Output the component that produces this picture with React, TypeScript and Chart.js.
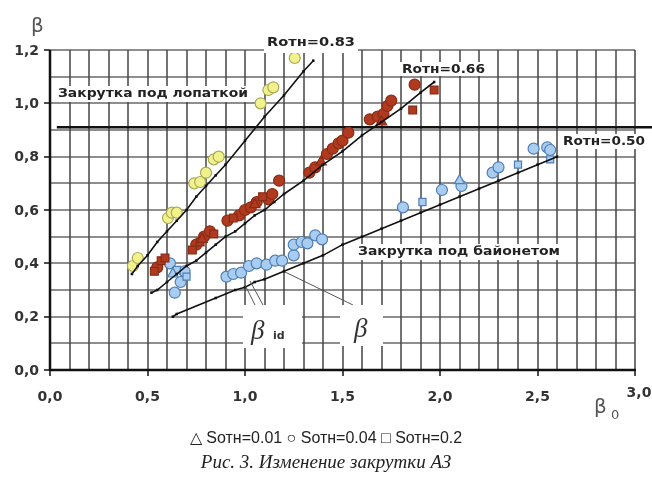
import React, { useEffect, useRef } from "react";
import { Chart, registerables } from "chart.js";
Chart.register(...registerables);

// ---- data ----
const refLineY = 0.91;

const line083X = [0.42, 0.45, 0.5, 0.55, 0.6, 0.65, 0.7, 0.75, 0.8, 0.85, 0.9, 1.0, 1.1, 1.2, 1.3, 1.35];
const line083Y = [0.36, 0.39, 0.43, 0.48, 0.52, 0.56, 0.6, 0.65, 0.69, 0.73, 0.77, 0.86, 0.95, 1.03, 1.12, 1.16];

const line066X = [0.52, 0.55, 0.6, 0.65, 0.7, 0.75, 0.8, 0.85, 0.9, 0.95, 1.0, 1.05, 1.1, 1.15, 1.2, 1.3, 1.4, 1.5, 1.6, 1.7, 1.8, 1.9, 1.97];
const line066Y = [0.29, 0.3, 0.33, 0.36, 0.39, 0.41, 0.44, 0.47, 0.5, 0.52, 0.55, 0.58, 0.6, 0.63, 0.66, 0.71, 0.77, 0.82, 0.88, 0.93, 0.98, 1.04, 1.08];

const line050X = [0.63, 0.65, 0.85, 0.95, 1.0, 1.05, 1.1, 1.2, 1.3, 1.4, 1.5, 1.6, 1.7, 1.8, 1.9, 2.0, 2.1, 2.2, 2.3, 2.4, 2.5, 2.6];
const line050Y = [0.2, 0.21, 0.27, 0.3, 0.31, 0.33, 0.34, 0.37, 0.4, 0.43, 0.47, 0.5, 0.53, 0.56, 0.59, 0.62, 0.65, 0.68, 0.71, 0.74, 0.77, 0.8];

const yellowX = [0.425, 0.45, 0.605, 0.625, 0.65, 0.74, 0.77, 0.8, 0.84, 0.865, 1.08, 1.12, 1.145, 1.255];
const yellowY = [0.39, 0.42, 0.57, 0.59, 0.59, 0.7, 0.705, 0.74, 0.79, 0.8, 1.0, 1.05, 1.06, 1.17];

const redCircX = [0.55, 0.75, 0.79, 0.82, 0.91, 0.97, 1.0, 1.03, 1.06, 1.12, 1.14, 1.175, 1.33, 1.36, 1.42, 1.45, 1.48, 1.5, 1.53, 1.64, 1.68, 1.71, 1.73, 1.75, 1.87];
const redCircY = [0.385, 0.47, 0.5, 0.52, 0.56, 0.58, 0.6, 0.61, 0.63, 0.64, 0.66, 0.71, 0.74, 0.76, 0.81, 0.83, 0.85, 0.86, 0.89, 0.94, 0.95, 0.96, 0.99, 1.01, 1.07];
const redSqX = [0.535, 0.57, 0.59, 0.73, 0.77, 0.84, 0.94, 1.09, 1.86, 1.97];
const redSqY = [0.37, 0.41, 0.42, 0.45, 0.48, 0.51, 0.57, 0.65, 0.975, 1.05];
const redTriX = [0.78, 1.05, 1.39, 1.7];
const redTriY = [0.49, 0.62, 0.78, 0.93];

const blueCircX = [0.615, 0.64, 0.67, 0.69, 0.905, 0.94, 0.98, 1.02, 1.06, 1.11, 1.155, 1.19, 1.25, 1.25, 1.29, 1.32, 1.36, 1.395, 1.81, 2.01, 2.11, 2.27, 2.3, 2.48, 2.55, 2.565];
const blueCircY = [0.4, 0.29, 0.33, 0.37, 0.35, 0.36, 0.365, 0.39, 0.4, 0.395, 0.41, 0.41, 0.43, 0.47, 0.48, 0.475, 0.505, 0.49, 0.61, 0.675, 0.69, 0.74, 0.76, 0.83, 0.835, 0.825];
const blueSqX = [0.65, 0.7, 1.91, 2.4, 2.565];
const blueSqY = [0.375, 0.35, 0.63, 0.77, 0.79];
const blueTriX = [0.63, 2.1];
const blueTriY = [0.36, 0.71];

const lineLabels = ["Rотн=0.83", "Rотн=0.66", "Rотн=0.50"];
const zoneLabels = ["Закрутка под лопаткой", "Закрутка под байонетом"];
const legendText = "△ Sотн=0.01 ○ Sотн=0.04 □ Sотн=0.2";
const captionText = "Рис. 3. Изменение закрутки АЗ";

const pts = (xs: number[], ys: number[]) => xs.map((x, i) => ({ x, y: ys[i] }));
const fmt = (v: number) => v.toFixed(1).replace(".", ",");
const tenth = (v: number) => Math.round(v * 10);

function fitText(ctx: CanvasRenderingContext2D, text: string, x: number, yMid: number, w: number, font: string, color: string) {
  ctx.save();
  ctx.font = font;
  ctx.textBaseline = "middle";
  ctx.textAlign = "left";
  const m = ctx.measureText(text).width;
  ctx.translate(x, yMid);
  ctx.scale(w / m, 1);
  ctx.fillStyle = color;
  ctx.fillText(text, 0, 0);
  ctx.restore();
}

function whiteBox(ctx: CanvasRenderingContext2D, x0: number, y0: number, x1: number, y1: number) {
  ctx.save();
  ctx.fillStyle = "#ffffff";
  ctx.fillRect(x0, y0, x1 - x0, y1 - y0);
  ctx.restore();
}

function seg(ctx: CanvasRenderingContext2D, x0: number, y0: number, x1: number, y1: number) {
  ctx.beginPath();
  ctx.moveTo(x0, y0);
  ctx.lineTo(x1, y1);
  ctx.stroke();
}

// grid, axes and tick marks painted on a canvas that sits under the chart canvas,
// positioned with the chart's own scales
function drawGrid(g: CanvasRenderingContext2D, chart: any) {
  const xs = chart.scales.x, ys = chart.scales.y;
  const L = xs.getPixelForValue(0);
  const R = xs.getPixelForValue(3);
  const T = ys.getPixelForValue(1.2);
  const B = ys.getPixelForValue(0);
  g.clearRect(0, 0, g.canvas.width, g.canvas.height);
  g.save();
  g.strokeStyle = "#8e8e8e";
  g.lineWidth = 2;
  ys.ticks.forEach((t: any) => {
    const p = Math.round(ys.getPixelForValue(t.value));
    seg(g, L, p, R, p);
  });
  g.strokeStyle = "#444";
  g.lineWidth = 1.5;
  xs.ticks.forEach((t: any) => {
    const p = Math.round(xs.getPixelForValue(t.value));
    seg(g, p, T, p, B);
  });
  g.strokeStyle = "#111";
  g.lineWidth = 1.5;
  ys.ticks.forEach((t: any) => {
    if (tenth(t.value) % 2 !== 0) return;
    const p = Math.round(ys.getPixelForValue(t.value));
    seg(g, L - 6, p, L, p);
  });
  xs.ticks.forEach((t: any) => {
    if (tenth(t.value) % 5 !== 0) return;
    const p = Math.round(xs.getPixelForValue(t.value));
    seg(g, p, B, p, B + 6);
  });
  g.lineWidth = 2.5;
  seg(g, L, T, L, B + 1);
  seg(g, L - 1, B, R + 1, B);
  g.restore();
}

const annotPlugin = {
  id: "annot",
  beforeDatasetsDraw(chart: any) {
    const ctx = chart.ctx;
    const xs = chart.scales.x, ys = chart.scales.y;
    const yy = ys.getPixelForValue(refLineY);
    ctx.save();
    ctx.strokeStyle = "#111";
    ctx.lineWidth = 2.5;
    seg(ctx, xs.getPixelForValue(0.035), yy, chart.width, yy);
    ctx.restore();
  },
  afterDatasetsDraw(chart: any) {
    const ctx = chart.ctx;
    const xs = chart.scales.x, ys = chart.scales.y;
    const axL = xs.getPixelForValue(0);
    const axB = ys.getPixelForValue(0);
    const bold = "bold 13px 'DejaVu Sans', sans-serif";

    // tick labels
    ctx.save();
    ctx.fillStyle = "#333";
    ctx.font = "bold 14px 'DejaVu Sans', sans-serif";
    ctx.textBaseline = "middle";
    ctx.textAlign = "right";
    ys.ticks.forEach((t: any) => {
      if (tenth(t.value) % 2 !== 0) return;
      ctx.fillText(fmt(t.value), axL - 11, ys.getPixelForValue(t.value) + 1);
    });
    ctx.textAlign = "center";
    xs.ticks.forEach((t: any) => {
      const k = tenth(t.value);
      if (k % 5 !== 0) return;
      const last = k === 30;
      ctx.fillText(fmt(t.value), xs.getPixelForValue(t.value) + (last ? 4 : 0), axB + (last ? 23 : 27));
    });
    ctx.restore();

    // line labels
    whiteBox(ctx, 264, 34, 358, 53);
    fitText(ctx, lineLabels[0], 267, 43, 88, bold, "#222");
    whiteBox(ctx, 399, 62, 488, 76);
    fitText(ctx, lineLabels[1], 402, 70, 83, bold, "#222");
    whiteBox(ctx, 560, 134, 648, 149);
    fitText(ctx, lineLabels[2], 563, 142, 82, bold, "#222");
    // zone labels
    whiteBox(ctx, 55, 86, 252, 102);
    fitText(ctx, zoneLabels[0], 58, 94, 190, bold, "#222");
    whiteBox(ctx, 354, 244, 565, 260);
    fitText(ctx, zoneLabels[1], 358, 252, 202, bold, "#222");

    // leader lines
    ctx.save();
    ctx.strokeStyle = "#555";
    ctx.lineWidth = 1;
    seg(ctx, 245, 285, 255, 305);
    seg(ctx, 250, 281, 263, 305);
    seg(ctx, 285, 272, 353, 305);
    ctx.restore();

    // beta labels
    whiteBox(ctx, 243, 305, 302, 348);
    whiteBox(ctx, 340, 305, 383, 346);
    ctx.save();
    ctx.fillStyle = "#333";
    ctx.textBaseline = "alphabetic";
    ctx.textAlign = "left";
    ctx.font = "italic 27px 'Liberation Serif', serif";
    ctx.fillText("β", 251, 339);
    ctx.fillText("β", 354, 337);
    ctx.font = "bold 11px 'DejaVu Sans', sans-serif";
    ctx.fillText("id", 273, 339);

    // axis titles
    ctx.fillStyle = "#555";
    ctx.font = "20px 'DejaVu Sans', sans-serif";
    ctx.fillText("β", 31, 32);
    ctx.fillText("β", 594, 413);
    ctx.font = "13px 'DejaVu Sans', sans-serif";
    ctx.fillText("0", 611, 419);
    ctx.restore();
  },
};

export default function App() {
  const ref = useRef<HTMLCanvasElement | null>(null);
  const bgRef = useRef<HTMLCanvasElement | null>(null);
  useEffect(() => {
    if (!ref.current) return;
    const lineDs = (xs: number[], ys: number[]) => ({
      data: pts(xs, ys),
      showLine: true,
      fill: false,
      borderColor: "#111",
      borderWidth: 1.6,
      backgroundColor: "#111",
      pointStyle: "rect",
      pointRadius: 1.8,
      pointBorderWidth: 0,
    });
    const scatterDs = (xs: number[], ys: number[], style: string, fill: string, edge: string, r: number) => ({
      data: pts(xs, ys),
      showLine: false,
      pointStyle: style,
      pointRadius: r,
      backgroundColor: fill,
      borderColor: edge,
      pointBorderWidth: 1.2,
    });
    const chart = new Chart(ref.current, {
      type: "scatter",
      data: {
        datasets: [
          lineDs(line083X, line083Y),
          lineDs(line066X, line066Y),
          lineDs(line050X, line050Y),
          scatterDs(yellowX, yellowY, "circle", "#f2f28c", "#a9a95a", 5.5),
          scatterDs(redTriX, redTriY, "triangle", "#b03a1f", "#8a2b15", 6),
          scatterDs(redSqX, redSqY, "rect", "#b03a1f", "#8a2b15", 5.5),
          scatterDs(redCircX, redCircY, "circle", "#b03a1f", "#8a2b15", 5.5),
          scatterDs(blueTriX, blueTriY, "triangle", "#a9cdf0", "#4f7fb5", 6),
          scatterDs(blueSqX, blueSqY, "rect", "#a9cdf0", "#4f7fb5", 5),
          scatterDs(blueCircX, blueCircY, "circle", "#a9cdf0", "#4f7fb5", 5.5),
        ] as any,
      },
      options: {
        animation: false,
        responsive: false,
        devicePixelRatio: 1,
        layout: { padding: { left: 0, top: 50, right: 17, bottom: 0 } },
        plugins: { legend: { display: false }, tooltip: { enabled: false } },
        scales: {
          x: {
            type: "linear",
            min: 0,
            max: 3,
            afterFit: (s: any) => { s.height = 50; },
            ticks: { stepSize: 0.1, autoSkip: false, display: false },
            grid: { display: false },
            border: { display: false },
          },
          y: {
            type: "linear",
            min: 0,
            max: 1.2,
            afterFit: (s: any) => { s.width = 50; },
            ticks: { stepSize: 0.1, autoSkip: false, display: false },
            grid: { display: false },
            border: { display: false },
          },
        },
      } as any,
      plugins: [annotPlugin],
    });
    const g = bgRef.current ? bgRef.current.getContext("2d") : null;
    if (g) drawGrid(g, chart);
    return () => chart.destroy();
  }, []);

  return (
    <div style={{ position: "fixed", left: 0, top: 0, width: 652, height: 483, background: "#fff", overflow: "hidden" }}>
      <canvas ref={bgRef} width={652} height={420} style={{ position: "absolute", left: 0, top: 0, width: 652, height: 420 }} />
      <canvas ref={ref} width={652} height={420} style={{ position: "absolute", left: 0, top: 0, width: 652, height: 420 }} />
      <div style={{ position: "absolute", left: 0, top: 429, width: 652, textAlign: "center", font: "16px 'Liberation Sans', Arial, sans-serif", lineHeight: "18px", color: "#222" }}>
        {legendText}
      </div>
      <div style={{ position: "absolute", left: 0, top: 451, width: 652, textAlign: "center", font: "italic 19px 'Liberation Serif', 'Times New Roman', serif", lineHeight: "22px", color: "#222" }}>
        {captionText}
      </div>
    </div>
  );
}
